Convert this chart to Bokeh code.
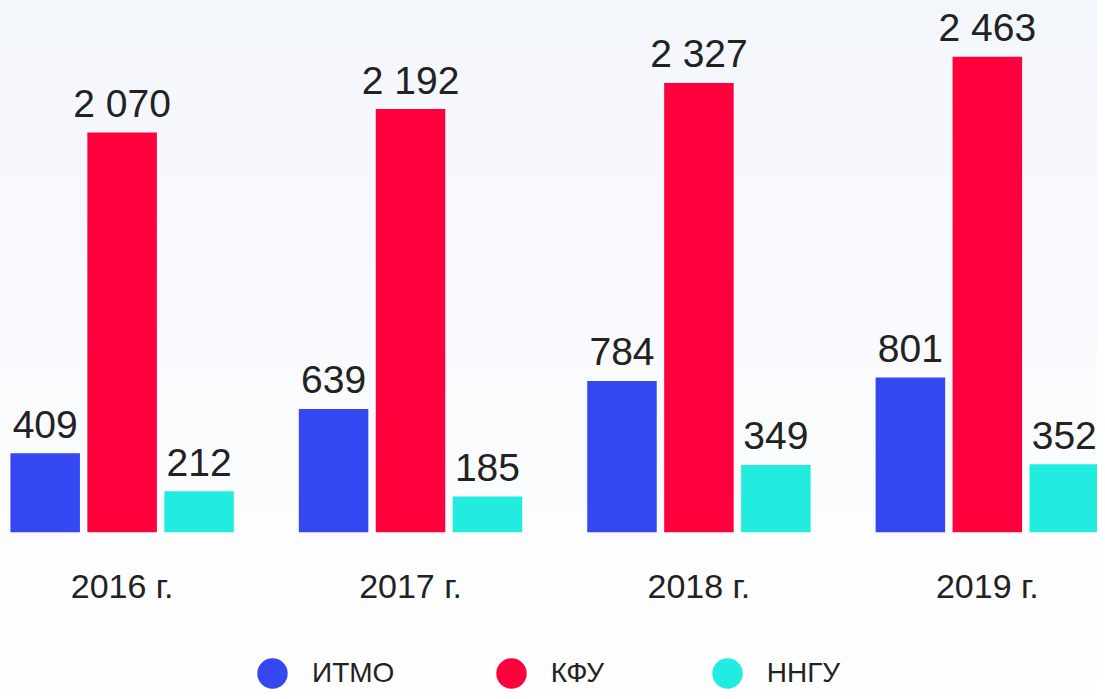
from bokeh.plotting import figure
from bokeh.models import ColumnDataSource, Range1d, Legend, LegendItem
from bokeh.core.properties import value
from bokeh.transform import dodge
from bokeh.embed import file_html
from bokeh.resources import INLINE

years = ["2016 г.", "2017 г.", "2018 г.", "2019 г."]
series = ["ИТМО", "КФУ", "ННГУ"]
itmo = [409, 639, 784, 801]
kfu = [2070, 2192, 2327, 2463]
nngu = [212, 185, 349, 352]
colors = ["#3447f0", "#ff003c", "#22ebdf"]

FONT = "Liberation Sans"
TXT = "#222222"


def fmt(v):
    return f"{v:,}".replace(",", " ")


W, H = 1097, 691
p = figure(width=W, height=H, output_backend="svg", toolbar_location=None,
           x_range=Range1d(-0.4217, 3.382), y_range=Range1d(-824.5, 2754),
           min_border=0, min_border_left=0, min_border_right=0,
           min_border_top=0, min_border_bottom=0)
p.xaxis.visible = False
p.yaxis.visible = False
p.grid.visible = False
p.outline_line_color = None
p.background_fill_alpha = 0
p.border_fill_alpha = 0
p.styles = {"background-image": "linear-gradient(to bottom, #f3f6fb 0%, #f9fafd 45%, #fefefe 100%)"}

xs = list(range(len(years)))
offsets = [-0.2668, 0.0, 0.2668]
data = [itmo, kfu, nngu]
bar_w = 0.241

leg_x = [234, 472.8, 688.7]
for name, vals, col, off, lx in zip(series, data, colors, offsets, leg_x):
    src = ColumnDataSource(dict(x=xs, top=vals, label=[fmt(v) for v in vals]))
    p.vbar(x=dodge("x", off, range=p.x_range), top="top", bottom=0, width=bar_w,
           source=src, fill_color=col, line_color=None)
    p.text(x=dodge("x", off, range=p.x_range), y="top", text="label", source=src,
           text_align="center", text_baseline="middle", y_offset=-29,
           text_font=value(FONT), text_font_size="39px", text_color=TXT)
    # legend marker renderer (zero size in the plot; legend draws its own circle)
    r = p.scatter(x="x", y="top", source=src, marker="circle", size=0,
                  fill_color=col, line_color=None)
    leg = Legend(items=[LegendItem(label=name, renderers=[r])], location=(lx, -20),
                 orientation="horizontal", glyph_width=76, glyph_height=76,
                 label_standoff=2, padding=0, margin=0, spacing=0,
                 border_line_alpha=0, background_fill_alpha=0,
                 label_text_font=FONT, label_text_font_size="28px",
                 label_text_color=TXT, label_text_baseline="middle")
    p.add_layout(leg, "center")

ysrc = ColumnDataSource(dict(x=xs, y=[0] * len(years), label=years))
p.text(x="x", y="y", text="label", source=ysrc, text_align="center",
       text_baseline="middle", y_offset=54,
       text_font=value(FONT), text_font_size="34px", text_color=TXT)

open("out.html", "w").write(file_html(p, INLINE))
